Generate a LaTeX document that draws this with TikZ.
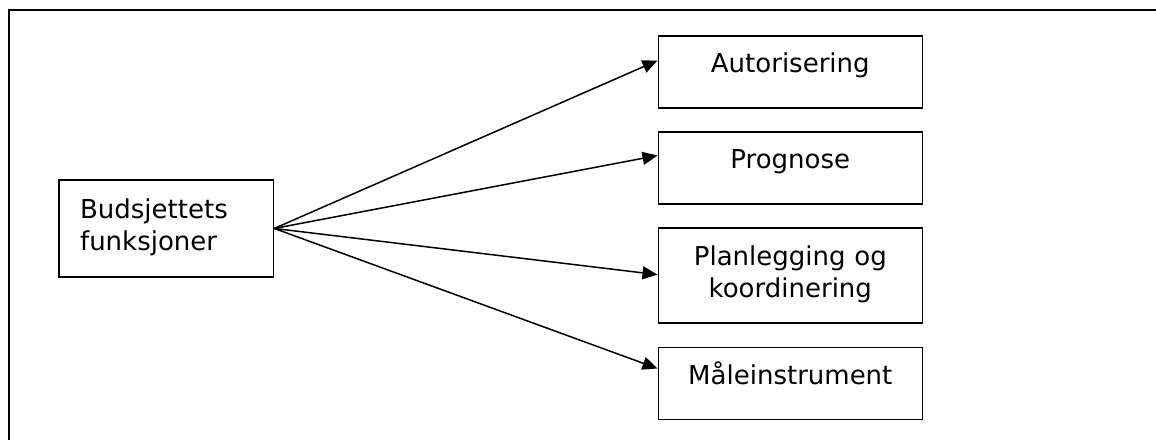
\documentclass[tikz,border=0pt]{standalone}
\usepackage{fontspec}
\setmainfont{DejaVu Sans}
\usetikzlibrary{arrows.meta,calc}
\begin{document}
\begin{tikzpicture}[x=1pt,y=-1pt,
  box/.style={draw=black, line width=1.6pt, rectangle, inner sep=0pt,
    font=\fontsize{26}{32}\selectfont},
  fn/.style={box, anchor=north west, text width=264pt, align=center,
    text height=37pt, text depth=35pt},
  fntwo/.style={fn, text depth=58pt},
  link/.style={line width=1.5pt, -{Triangle[length=15pt,width=13pt]}}]
\useasboundingbox (0,0) rectangle (1156,439);
\clip (0,0) rectangle (1156,439);
% outer frame
\draw[line width=1.8pt] (9,10) rectangle (1180,470);
% source box
\node[box, anchor=north west, text width=172.4pt, align=left, inner xsep=21pt,
  text height=38.7pt, text depth=58pt] (bud) at (58.3,179.3) {Budsjettets\\funksjoner};
% function boxes
\node[fn] (aut) at (657.5,35) {Autorisering};
\node[fn] (pro) at (657.5,131) {Prognose};
\node[fntwo] (pla) at (657.5,227.3) {Planlegging og\\koordinering};
\node[fn] (mal) at (657.5,346.7) {Måleinstrument};
% arrows
\draw[link] (bud.east) -- ($(aut.north west)!0.347!(aut.south west)$);
\draw[link] (bud.east) -- ($(pro.north west)!0.333!(pro.south west)$);
\draw[link] (bud.east) -- ($(pla.north west)!0.49!(pla.south west)$);
\draw[link] (bud.east) -- ($(mal.north west)!0.296!(mal.south west)$);
\end{tikzpicture}
\end{document}
